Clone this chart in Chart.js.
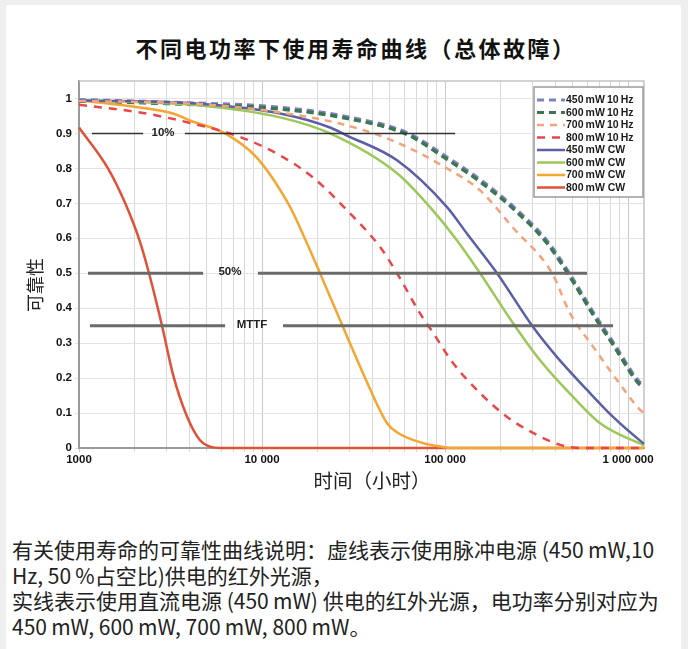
<!DOCTYPE html>
<html lang="zh">
<head>
<meta charset="UTF-8">
<title>寿命曲线</title>
<script src="https://cdn.jsdelivr.net/npm/chart.js@4.4.0/dist/chart.umd.min.js"></script>
<style>
  body { margin: 0; background: #efefef; width: 688px; height: 649px; overflow: hidden; position: relative; font-family: "Noto Sans CJK SC", sans-serif; }
  #card { position: absolute; left: 6px; top: 5px; width: 675px; height: 660px; background: #fff; }
  #title { position: absolute; left: 0; top: 31px; width: 712px; text-align: center; font-size: 22px; letter-spacing: 2.5px; font-weight: bold; color: #111; }
  #wrap { position: absolute; left: 0; top: 0; width: 688px; height: 500px; }
  #note { position: absolute; left: 12px; top: 537px; margin: 0; font-size: 21px; line-height: 25.5px; color: #222; white-space: nowrap; }
</style>
</head>
<body>
<div id="card"></div>
<div id="title">不同电功率下使用寿命曲线（总体故障）</div>
<div id="wrap"><canvas id="life" width="688" height="500"></canvas></div>
<p id="note">有关使用寿命的可靠性曲线说明：虚线表示使用脉冲电源 (450&thinsp;mW,10<br>Hz, 50&thinsp;%占空比)供电的红外光源，<br>实线表示使用直流电源 (450&thinsp;mW) 供电的红外光源，电功率分别对应为<br>450&thinsp;mW, 600&thinsp;mW, 700&thinsp;mW, 800&thinsp;mW。</p>
<script>
// ticks
var xTickValues = [1000, 10000, 100000, 1000000];
var xTickLabels = ['1000', '10 000', '100 000', '1 000 000'];
var yTickValues = [0, 0.1, 0.2, 0.3, 0.4, 0.5, 0.6, 0.7, 0.8, 0.9, 1];
var yTickLabels = ['0', '0.1', '0.2', '0.3', '0.4', '0.5', '0.6', '0.7', '0.8', '0.9', '1'];
var xMax = 1222000;
var xTitle = '时间（小时）';
var yTitle = '可靠性';

// series names (legend order)
var seriesNames = ['450\u2009mW\u200910\u2009Hz', '600\u2009mW\u200910\u2009Hz', '700\u2009mW\u200910\u2009Hz', '800\u2009mW\u200910\u2009Hz',
                   '450\u2009mW CW', '600\u2009mW CW', '700\u2009mW CW', '800\u2009mW CW'];

// hours / reliability
var p450Hours = [1000, 3264, 12545, 29140, 61970, 102540, 155400, 235300, 360900, 500600, 643900, 828000, 1120000, 1222000];
var p450Rel   = [0.995, 0.987, 0.973, 0.946, 0.90, 0.83, 0.766, 0.689, 0.59, 0.48, 0.386, 0.30, 0.194, 0.175];
var p600Hours = [1000, 3264, 12545, 29140, 61970, 102540, 155400, 235300, 360900, 500600, 643900, 828000, 1120000, 1222000];
var p600Rel   = [0.993, 0.985, 0.970, 0.943, 0.897, 0.826, 0.762, 0.685, 0.586, 0.476, 0.382, 0.296, 0.19, 0.171];
var p700Hours = [1000, 4583, 12545, 29140, 54680, 102540, 155400, 235300, 384600, 482200, 643900, 871000, 1163000, 1222000];
var p700Rel   = [0.993, 0.984, 0.96, 0.923, 0.874, 0.80, 0.737, 0.63, 0.50, 0.385, 0.29, 0.194, 0.109, 0.10];
var p800Hours = [1000, 2154, 4043, 7582, 12545, 19000, 29140, 44150, 54680, 73010, 85990, 110600, 155400, 218200, 302700, 425000, 546900, 1222000];
var p800Rel   = [0.982, 0.96, 0.93, 0.89, 0.837, 0.774, 0.68, 0.575, 0.50, 0.385, 0.33, 0.243, 0.157, 0.089, 0.043, 0.009, 0, 0];

var cw450Hours = [1000, 4583, 12545, 23530, 29140, 54680, 102540, 131900, 192400, 302700, 409300, 597000, 828000, 1208000, 1222000];
var cw450Rel   = [0.995, 0.985, 0.957, 0.917, 0.894, 0.823, 0.689, 0.613, 0.50, 0.346, 0.26, 0.166, 0.089, 0.014, 0.012];
var cw600Hours = [1000, 4583, 12545, 23530, 54680, 82790, 116300, 155400, 235300, 330400, 500600, 703200, 1208000, 1222000];
var cw600Rel   = [0.995, 0.98, 0.946, 0.90, 0.786, 0.689, 0.594, 0.50, 0.357, 0.251, 0.146, 0.071, 0.009, 0.008];
var cw700Hours = [1000, 2154, 3264, 4043, 6280, 9391, 14224, 16130, 20750, 27710, 35640, 48220, 55370, 75820, 97520, 110000, 1222000];
var cw700Rel   = [0.995, 0.974, 0.957, 0.937, 0.90, 0.83, 0.69, 0.63, 0.50, 0.346, 0.214, 0.071, 0.043, 0.014, 0.003, 0, 0];
var cw800Hours = [1000, 1440, 1806, 2154, 2413, 2842, 3264, 3892, 4583, 5196, 5900, 1222000];
var cw800Rel   = [0.917, 0.80, 0.695, 0.59, 0.50, 0.35, 0.21, 0.09, 0.022, 0.004, 0, 0];

// reference lines (10%, 50%, MTTF)
var refLevels = [0.9, 0.5, 0.35];
var refLabels = ['10%', '50%', 'MTTF'];
var refLabelAt = [2877, 6683, 8811];
var refLeftFrom = [1178, 1120, 1148];
var refLeftTo = [2239, 4764, 6283];
var refRightFrom = [3793, 9506, 13030];
var refRightTo = [113500, 597000, 828000];

function pts(xs, ys) {
    return xs.map(function (x, i) { return { x: x, y: ys[i] }; });
}

var xGrid = [];
xTickValues.forEach(function (d) {
    for (var m = 1; m < 10; m++) {
        if (d * m <= xMax) xGrid.push(d * m);
    }
});

// data x, data y, colour, width, dash, draw order (higher = underneath)
var curveSets = [
    [p450Hours, p450Rel, '#7c82c2', 4.5, [7, 5], 3],
    [p600Hours, p600Rel, '#3d7650', 3.5, [7, 5], 2],
    [p700Hours, p700Rel, '#f3a27c', 2.5, [7, 6], 1],
    [p800Hours, p800Rel, '#e8474a', 2.5, [8, 7], 1],
    [cw450Hours, cw450Rel, '#5b5fa6', 2.5, [], 1],
    [cw600Hours, cw600Rel, '#9cc759', 2.5, [], 1],
    [cw700Hours, cw700Rel, '#f4a632', 2.5, [], 1],
    [cw800Hours, cw800Rel, '#e05138', 2.5, [], 1]
];

var datasets = curveSets.map(function (c, i) {
    return {
        label: seriesNames[i],
        data: pts(c[0], c[1]),
        borderColor: c[2],
        borderWidth: c[3],
        borderDash: c[4],
        pointRadius: 0,
        fill: false,
        cubicInterpolationMode: 'monotone',
        order: c[5],
        clip: 4
    };
});

refLevels.forEach(function (lv, i) {
    datasets.push({
        label: 'ref' + i,
        data: [
            { x: refLeftFrom[i], y: lv }, { x: refLeftTo[i], y: lv },
            { x: refLabelAt[i], y: null },
            { x: refRightFrom[i], y: lv }, { x: refRightTo[i], y: lv }
        ],
        borderColor: i === 0 ? '#333' : '#6a6a6a',
        borderWidth: i === 0 ? 1.6 : 3,
        pointRadius: 0,
        spanGaps: false,
        tension: 0,
        order: 0
    });
});

var framePlugin = {
    id: 'frame',
    beforeDatasetsDraw: function (chart) {
        var a = chart.chartArea, c = chart.ctx;
        c.save();
        c.strokeStyle = '#c4c4c4';
        c.lineWidth = 1.5;
        c.beginPath();
        c.moveTo(a.left, a.top);
        c.lineTo(a.right, a.top);
        c.lineTo(a.right, a.bottom);
        c.stroke();
        c.restore();
    },
    afterDraw: function (chart) {
        // axis titles, placed as in the original
        var c = chart.ctx;
        c.save();
        c.fillStyle = '#222';
        c.textAlign = 'center';
        c.textBaseline = 'middle';
        c.font = '19.5px "Noto Sans CJK SC", sans-serif';
        c.fillText(xTitle, 372, 481);
        c.translate(35, 285);
        c.rotate(-Math.PI / 2);
        c.font = '18px "Noto Sans CJK SC", sans-serif';
        c.fillText(yTitle, 0, 0);
        c.restore();
    }
};

var refTextPlugin = {
    id: 'refText',
    afterDatasetsDraw: function (chart) {
        var c = chart.ctx, sx = chart.scales.x, sy = chart.scales.y;
        c.save();
        c.font = 'bold 11.5px "Liberation Sans", Arial, sans-serif';
        c.fillStyle = '#222';
        c.textAlign = 'center';
        c.textBaseline = 'middle';
        refLabels.forEach(function (t, i) {
            c.fillText(t, sx.getPixelForValue(refLabelAt[i]), sy.getPixelForValue(refLevels[i]) - 1);
        });
        c.restore();
    }
};

var boxLegend = {
    id: 'boxLegend',
    afterDatasetsDraw: function (chart) {
        var c = chart.ctx, a = chart.chartArea;
        var right = a.right - 1, left = right - 109, top = a.top + 6, h = 110;
        c.save();
        c.fillStyle = '#fff';
        c.fillRect(left, top, right - left, h);
        c.strokeStyle = '#9a9a9a';
        c.lineWidth = 1.5;
        c.strokeRect(left, top, right - left, h);
        c.font = 'bold 10.5px "Liberation Sans", Arial, sans-serif';
        c.textBaseline = 'middle';
        for (var i = 0; i < seriesNames.length; i++) {
            var ds = chart.data.datasets[i];
            var y = top + 13 + i * 12.5;
            c.strokeStyle = ds.borderColor;
            c.lineWidth = Math.min(ds.borderWidth, 3);
            c.setLineDash(ds.borderDash || []);
            c.beginPath();
            c.moveTo(left + 3, y);
            c.lineTo(left + 31, y);
            c.stroke();
            c.setLineDash([]);
            c.fillStyle = '#1a1a1a';
            c.fillText(seriesNames[i], left + 32, y + 0.5);
        }
        c.restore();
    }
};

var tickFont = { family: '"Liberation Sans", Arial, sans-serif', weight: 'bold', size: 11.5 };

new Chart(document.getElementById('life'), {
    type: 'line',
    data: { datasets: datasets },
    options: {
        responsive: false,
        animation: false,
        layout: { padding: { top: 81, right: 44, left: 0, bottom: 0 } },
        plugins: {
            legend: { display: false },
            tooltip: { enabled: false }
        },
        scales: {
            x: {
                type: 'logarithmic',
                min: 1000,
                max: xMax,
                afterBuildTicks: function (s) { s.ticks = xGrid.map(function (v) { return { value: v }; }); },
                afterFit: function (s) { s.height = 52; },
                ticks: {
                    autoSkip: false,
                    maxRotation: 0,
                    font: tickFont,
                    color: '#111',
                    padding: 1,
                    callback: function (v) {
                        var k = xTickValues.indexOf(v);
                        return k >= 0 ? xTickLabels[k] : '';
                    }
                },
                grid: {
                    color: function (ctx) {
                        return xTickValues.indexOf(ctx.tick && ctx.tick.value) >= 0 ? '#c8c8c8' : '#d8d8d8';
                    },
                    tickLength: 4
                },
                border: { color: '#9a9a9a', width: 2 }
            },
            y: {
                min: 0,
                max: 1.05,
                afterBuildTicks: function (s) { s.ticks = yTickValues.map(function (v) { return { value: v }; }); },
                afterFit: function (s) { s.width = 79; },
                ticks: {
                    font: tickFont,
                    color: '#111',
                    padding: 3,
                    callback: function (v, i) { return yTickLabels[i]; }
                },
                grid: { color: '#e3e3e3', tickLength: 4 },
                border: { color: '#9a9a9a', width: 2 }
            }
        }
    },
    plugins: [framePlugin, refTextPlugin, boxLegend]
});
</script>
</body>
</html>
